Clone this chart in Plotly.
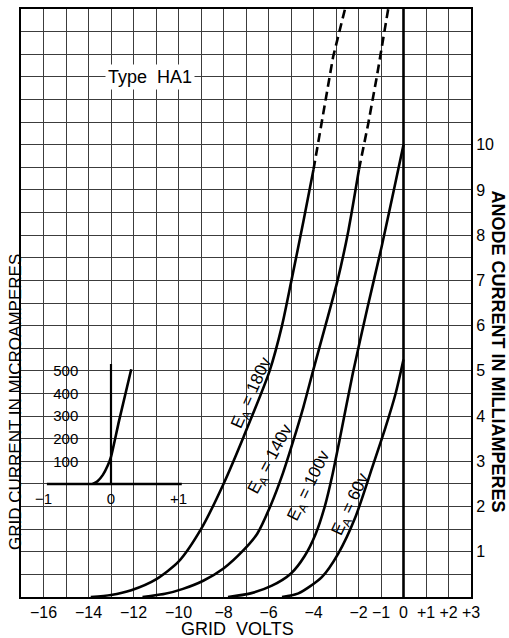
import plotly.graph_objects as go

FONT = "Liberation Sans, Arial, Helvetica, sans-serif"

# ---- axes / ticks ----
x_range = [-17, 3]
y_range = [0, 13]
x_tick_vals = [-16, -14, -12, -10, -8, -6, -4, -2, -1, 0, 1, 2, 3]
x_tick_text = ["−16", "−14", "−12", "−10", "−8", "−6", "−4", "−2", "−1", "0", "+1", "+2", "+3"]
y_tick_vals = [1, 2, 3, 4, 5, 6, 7, 8, 9, 10]
y_tick_text = ["1", "2", "3", "4", "5", "6", "7", "8", "9", "10"]

# ---- anode current curves (grid volts, mA) ----
v_180 = [-13.9, -13.0, -12.1, -11.0, -10.0, -9.0, -8.0, -7.1, -5.95, -5.4, -4.98, -4.45, -4.0]
i_180 = [0.0, 0.045, 0.15, 0.39, 0.78, 1.5, 2.5, 3.55, 5.0, 6.0, 7.0, 8.3, 9.45]
v_180_dash = [-4.0, -3.64, -3.13, -2.6]
i_180_dash = [9.45, 10.46, 11.94, 13.0]

v_140 = [-11.6, -10.6, -9.8, -8.9, -8.0, -7.1, -6.5, -5.9, -5.35, -4.9, -4.45, -4.02, -3.47, -2.93, -2.45, -1.98]
i_140 = [0.0, 0.07, 0.18, 0.36, 0.63, 1.04, 1.4, 2.03, 2.75, 3.45, 4.2, 5.0, 6.0, 7.0, 8.1, 9.45]
v_140_dash = [-1.98, -1.57, -1.19, -0.68]
i_140_dash = [9.45, 10.46, 11.49, 13.0]

v_100 = [-7.8, -6.8, -5.85, -5.0, -4.4, -3.9, -3.5, -3.15, -2.85, -2.25, -1.6, -0.97, -0.45, 0.0]
i_100 = [0.0, 0.08, 0.25, 0.52, 0.9, 1.4, 2.0, 2.72, 3.45, 4.95, 6.4, 7.75, 8.95, 10.0]

v_60 = [-5.4, -4.67, -3.63, -2.9, -2.15, -1.4, -0.8, -0.35, 0.0]
i_60 = [0.0, 0.08, 0.44, 0.96, 1.75, 2.85, 3.75, 4.5, 5.25]

zero_line_v = [0, 0]
zero_line_i = [0, 13]

curve_labels = ["E<sub>A</sub> = 180v", "E<sub>A</sub> = 140v", "E<sub>A</sub> = 100v", "E<sub>A</sub> = 60v"]
label_v = [-6.7, -5.9, -4.16, -2.33]
label_i = [4.5, 3.04, 2.45, 2.04]
label_angle = [-66, -62, -64, -65]

# ---- inset: grid current (inset volts, microamperes) ----
inset_v = [-0.27, -0.2, -0.12, -0.05, 0.0, 0.12, 0.30]
inset_ua = [0, 12, 40, 80, 120, 280, 507]
inset_axis_v = [0, 0]
inset_axis_ua = [0, 530]
inset_base_v = [-0.95, 1.05]
inset_base_ua = [0, 0]
inset_x_ticks = [-1, 0, 1]
inset_x_text = ["−1", "0", "+1"]
inset_y_ticks = [100, 200, 300, 400, 500]

fig = go.Figure()

solid = dict(color="black", width=2.6, shape="spline", smoothing=0.7)
dashed = dict(color="black", width=2.6, dash="9px,5px")

for vx, iy in [(v_180, i_180), (v_140, i_140), (v_100, i_100), (v_60, i_60)]:
    fig.add_trace(go.Scatter(x=vx, y=iy, mode="lines", line=solid, hoverinfo="skip", showlegend=False))
for vx, iy in [(v_180_dash, i_180_dash), (v_140_dash, i_140_dash)]:
    fig.add_trace(go.Scatter(x=vx, y=iy, mode="lines", line=dashed, hoverinfo="skip", showlegend=False))
fig.add_trace(go.Scatter(x=zero_line_v, y=zero_line_i, mode="lines", line=dict(color="black", width=2.6),
                         hoverinfo="skip", showlegend=False))

# inset traces
fig.add_trace(go.Scatter(x=inset_base_v, y=inset_base_ua, xaxis="x2", yaxis="y2", mode="lines",
                         line=dict(color="black", width=2.5), hoverinfo="skip", showlegend=False))
fig.add_trace(go.Scatter(x=inset_v, y=inset_ua, xaxis="x2", yaxis="y2", mode="lines",
                         line=dict(color="black", width=2.6, shape="spline", smoothing=0.6),
                         hoverinfo="skip", showlegend=False))
fig.add_trace(go.Scatter(x=inset_axis_v, y=inset_axis_ua, xaxis="x2", yaxis="y2", mode="lines",
                         line=dict(color="black", width=2.2), hoverinfo="skip", showlegend=False))

GRID = "#3c3c3c"

annotations = []
for txt, vx, iy, ang in zip(curve_labels, label_v, label_i, label_angle):
    annotations.append(dict(x=vx, y=iy, xref="x", yref="y", text=txt, textangle=ang, showarrow=False,
                            xanchor="center", yanchor="middle",
                            font=dict(family=FONT, size=17, color="black")))

annotations += [
    dict(x=-11.25, y=11.5, xref="x", yref="y", text="Type  HA1", showarrow=False,
         xanchor="center", yanchor="middle",
         font=dict(family=FONT, size=18, color="black"), bgcolor="white", borderpad=2),
    dict(x=0, y=-138, xref="x2", yref="y2", text="GRID  VOLTS", showarrow=False,
         xanchor="center", yanchor="middle",
         font=dict(family=FONT, size=15, color="black")),
    dict(x=1.061, y=0.4167, xref="paper", yref="paper", text="ANODE CURRENT IN MILLIAMPERES",
         textangle=90, showarrow=False, xanchor="center", yanchor="middle",
         font=dict(family=FONT, size=18, color="black", weight="bold")),
    dict(x=-0.0133, y=0.3316, xref="paper", yref="paper", text="GRID CURRENT IN MICROAMPERES",
         textangle=-90, showarrow=False, xanchor="center", yanchor="middle",
         font=dict(family=FONT, size=17, color="black")),
    dict(x=0.482, y=-0.0731, xref="paper", yref="paper", text="GRID  VOLTS", xanchor="center",
         yanchor="bottom", borderpad=0,
         showarrow=False, font=dict(family=FONT, size=18, color="black")),
]

x2_range = [-1.05, 1.05]
x2_domain = [(-13 + 3 * x2_range[0] + 17) / 20, (-13 + 3 * x2_range[1] + 17) / 20]
y2_range = [-20, 550]
y2_domain = [(2.5 + 0.005 * y2_range[0]) / 13, (2.5 + 0.005 * y2_range[1]) / 13]
y2_label_pos = (-13 + 3 * (-0.47) + 17) / 20   # paper x where inset tick labels end

fig.update_layout(
    template="none",
    width=509, height=638,
    margin=dict(l=21, r=38, t=9, b=41, autoexpand=False),
    paper_bgcolor="white", plot_bgcolor="rgba(0,0,0,0)",
    showlegend=False,
    xaxis=dict(range=x_range, tickvals=x_tick_vals, ticktext=x_tick_text, ticks="", automargin=False,
               tickfont=dict(family=FONT, size=16, color="black"), ticklabelstandoff=0,
               showgrid=True, gridcolor=GRID, gridwidth=1, zeroline=False,
               minor=dict(dtick=1, tick0=0, showgrid=True, gridcolor=GRID, gridwidth=1),
               showline=True, linecolor="black", linewidth=2, mirror=True, fixedrange=True),
    yaxis=dict(range=y_range, tickvals=y_tick_vals, ticktext=y_tick_text, side="right", ticks="",
               automargin=False, tickfont=dict(family=FONT, size=16, color="black"),
               showgrid=True, gridcolor=GRID, gridwidth=1, zeroline=False,
               minor=dict(dtick=0.5, tick0=0, showgrid=True, gridcolor=GRID, gridwidth=1),
               showline=True, linecolor="black", linewidth=2, mirror=True, fixedrange=True),
    xaxis2=dict(domain=x2_domain, range=x2_range, anchor="y2", showgrid=False, zeroline=False,
                showline=False, tickvals=inset_x_ticks, automargin=False,
                ticktext=inset_x_text, ticks="", tickfont=dict(family=FONT, size=15, color="black"),
                fixedrange=True),
    yaxis2=dict(domain=y2_domain, range=y2_range, anchor="free", position=y2_label_pos,
                side="left", showgrid=False, automargin=False,
                zeroline=False, showline=False, tickvals=inset_y_ticks, ticks="",
                ticklabelstandoff=1,
                tickfont=dict(family=FONT, size=15, color="black"), fixedrange=True),
    annotations=annotations,
)

fig.write_html("out.html", post_script="document.body.style.margin='0px';",
               config={"displayModeBar": False})
